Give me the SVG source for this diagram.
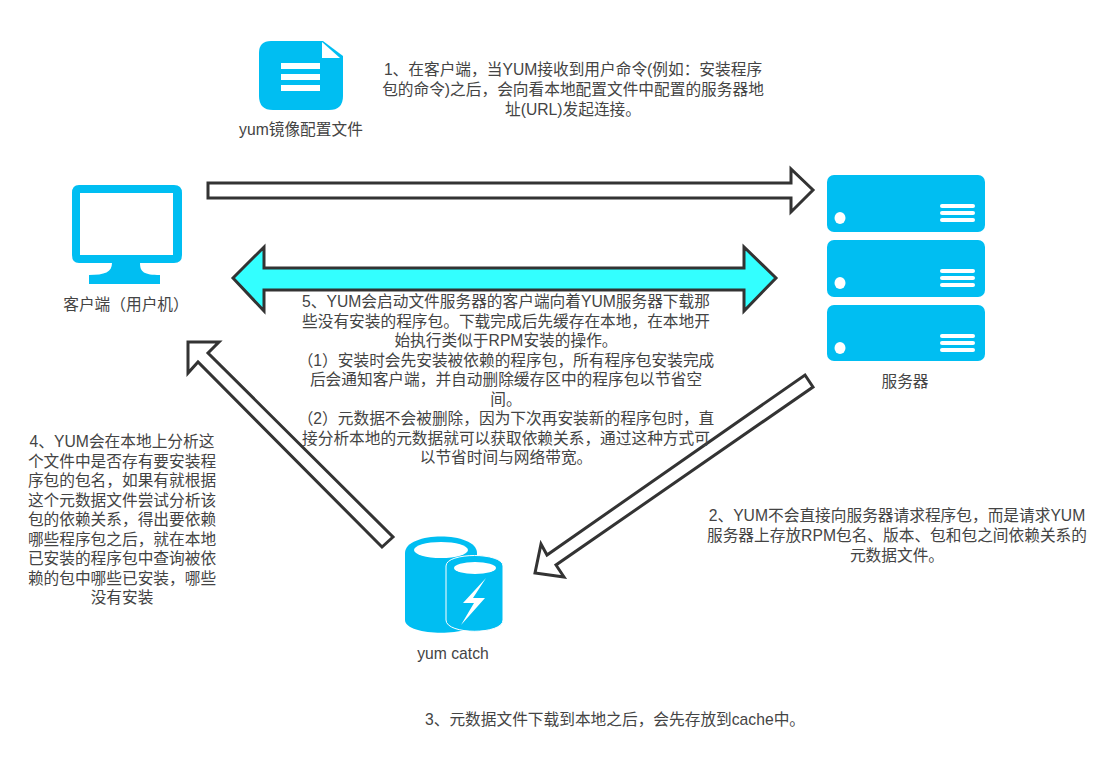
<svg xmlns="http://www.w3.org/2000/svg" width="1113" height="779" viewBox="0 0 1113 779">
<style>
text{font-family:"Liberation Sans","Noto Sans CJK SC",sans-serif;font-size:15.700px;fill:#444;text-anchor:middle}
.ic{fill:#00BEF2}
.w{fill:#fff}
.arr{stroke:#333;stroke-width:3;fill:#fff;stroke-linejoin:miter}
</style>
<rect width="1113" height="779" fill="#fff"/>
<g id="connectors">
<path class="arr" d="M208 183H791V169L813 190L791 212V198H208Z"/>
<path class="arr" style="fill:#3FF" d="M233 278L264 247V268H744V247L776 278L744 311V290H264V311Z"/>
<path class="arr" d="M805 375L813 387L556 565L564 577L535 573L541 544L547 555Z"/>
<path class="arr" d="M393 537L382 547L198 362L188 373V342H219L208 353Z"/>
</g>
<g id="config">
<path class="ic" d="M271 41H323L343 56V96Q343 110 329 110H273Q259 110 259 96V53Q259 41 271 41Z"/>
<path class="w" d="M322 42L322 58H340Z"/>
<rect class="w" x="281" y="63" width="39" height="6"/>
<rect class="w" x="281" y="74" width="39" height="6"/>
<rect class="w" x="281" y="85" width="39" height="6"/>
<text x="301" y="135">yum镜像配置文件</text>
</g>
<g id="client">
<path class="ic" d="M79 185H174Q182 185 182 193V255Q182 263 174 263H140C140 272 144 275 160 275V284H89V275C105 275 112 272 112 263H79Q72 263 72 255V193Q72 185 79 185Z"/>
<rect class="w" x="80" y="193" width="93" height="62"/>
<text x="126" y="310">客户端（用户机）</text>
</g>
<g id="server">
<rect class="ic" x="827" y="175" width="158" height="57" rx="7"/>
<rect class="ic" x="827" y="240" width="158" height="57" rx="7"/>
<rect class="ic" x="827" y="305" width="158" height="56" rx="7"/>
<g class="w">
<ellipse cx="840" cy="218" rx="5.500" ry="6"/>
<rect x="940" y="204" width="35" height="4" rx="2"/><rect x="940" y="211" width="35" height="4" rx="2"/><rect x="940" y="218" width="35" height="4" rx="2"/>
<ellipse cx="840" cy="283" rx="5.500" ry="6"/>
<rect x="940" y="269" width="35" height="4" rx="2"/><rect x="940" y="276" width="35" height="4" rx="2"/><rect x="940" y="283" width="35" height="4" rx="2"/>
<ellipse cx="840" cy="348" rx="5.500" ry="6"/>
<rect x="940" y="334" width="35" height="4" rx="2"/><rect x="940" y="341" width="35" height="4" rx="2"/><rect x="940" y="348" width="35" height="4" rx="2"/>
</g>
<text x="905" y="387">服务器</text>
</g>
<g id="cache">
<path class="ic" d="M405 553C405 531 477 531 477 553V620C477 637 405 637 405 620Z"/>
<ellipse class="w" cx="441" cy="550" rx="27" ry="8"/>
<path class="ic" stroke="#fff" stroke-width="1" d="M446 566C446 552 503 552 503 566V620C503 635 446 635 446 620Z"/>
<ellipse class="w" cx="475" cy="568" rx="21" ry="6"/>
<path class="w" d="M486 578L463 603H474L461 625L485 598H473Z"/>
<text x="453" y="659">yum catch</text>
</g>
<g id="note1">
<text x="573" y="75">1、在客户端，当YUM接收到用户命令(例如：安装程序</text>
<text x="573" y="95">包的命令)之后，会向看本地配置文件中配置的服务器地</text>
<text x="573" y="115">址(URL)发起连接。</text>
</g>
<g id="note2">
<text x="897" y="521">2、YUM不会直接向服务器请求程序包，而是请求YUM</text>
<text x="897" y="541">服务器上存放RPM包名、版本、包和包之间依赖关系的</text>
<text x="897" y="561">元数据文件。</text>
</g>
<g id="note3">
<text x="615" y="725">3、元数据文件下载到本地之后，会先存放到cache中。</text>
</g>
<g id="note4">
<text x="122" y="447">4、YUM会在本地上分析这</text>
<text x="122" y="466.500">个文件中是否存有要安装程</text>
<text x="122" y="486">序包的包名，如果有就根据</text>
<text x="122" y="505.500">这个元数据文件尝试分析该</text>
<text x="122" y="525">包的依赖关系，得出要依赖</text>
<text x="122" y="544.500">哪些程序包之后，就在本地</text>
<text x="122" y="564">已安装的程序包中查询被依</text>
<text x="122" y="583.500">赖的包中哪些已安装，哪些</text>
<text x="122" y="603">没有安装</text>
</g>
<g id="note5">
<text x="506" y="307">5、YUM会启动文件服务器的客户端向着YUM服务器下载那</text>
<text x="506" y="326.500">些没有安装的程序包。下载完成后先缓存在本地，在本地开</text>
<text x="506" y="346">始执行类似于RPM安装的操作。</text>
<text x="506" y="365.500">（1）安装时会先安装被依赖的程序包，所有程序包安装完成</text>
<text x="506" y="385">后会通知客户端，并自动删除缓存区中的程序包以节省空</text>
<text x="506" y="404.500">间。</text>
<text x="506" y="424">（2）元数据不会被删除，因为下次再安装新的程序包时，直</text>
<text x="506" y="443.500">接分析本地的元数据就可以获取依赖关系，通过这种方式可</text>
<text x="506" y="463">以节省时间与网络带宽。</text>
</g>
</svg>
